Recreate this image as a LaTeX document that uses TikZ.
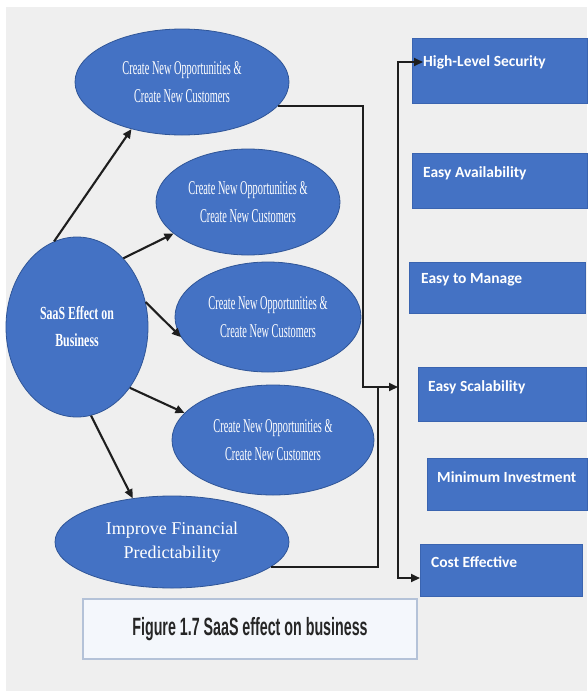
\documentclass[tikz,border=0pt]{standalone}
\usepackage{fontspec}
\usetikzlibrary{shapes.geometric,arrows.meta}

\newfontfamily\ellfont[FakeStretch=0.53]{Liberation Serif}
\newfontfamily\saasfont[FakeStretch=0.64]{Liberation Serif}
\newfontfamily\finfont{Liberation Serif}
\newfontfamily\boxfont{Carlito}
\newfontfamily\capfont[FakeStretch=0.57]{Liberation Sans}

\definecolor{officeblue}{HTML}{4472C4}
\definecolor{ellborder}{HTML}{2F5597}
\definecolor{boxborder}{HTML}{3A64B0}
\definecolor{paper}{HTML}{EFEFEF}
\definecolor{capfill}{HTML}{F4F7FC}
\definecolor{capborder}{HTML}{B4C2D8}
\definecolor{wire}{HTML}{1E1E1E}

\begin{document}
\begin{tikzpicture}[x=1pt, y=-1pt,
        bubble/.style={ellipse, fill=officeblue, draw=ellborder, line width=0.8pt, inner sep=0pt, text=white, align=center},
        opptext/.style={font=\ellfont\fontsize{19.5}{28}\selectfont},
        feature/.style={rectangle, fill=officeblue, draw=boxborder, line width=0.8pt, anchor=north west},
        featlabel/.style={anchor=west, inner sep=0pt, text=white, font=\boxfont\bfseries\fontsize{15.5}{18}\selectfont},
        link/.style={draw=wire, line width=2.1pt},
        tip/.style={-{Triangle[length=9pt, width=8pt]}}]
        \useasboundingbox (0,0) rectangle (587,691);
        \fill[white] (0,0) rectangle (587,691);
        \fill[paper] (6,7) rectangle (587,691);

        % ellipses on the left
        \node[bubble, minimum width=142, minimum height=180, font=\saasfont\bfseries\fontsize{18.5}{27}\selectfont] (saas) at (77,327) {SaaS Effect on\\Business};
        \node[bubble, opptext, minimum width=214, minimum height=106] (opp1) at (182,82) {Create New Opportunities \&\\Create New Customers};
        \node[bubble, opptext, minimum width=184, minimum height=106] (opp2) at (248,202) {Create New Opportunities \&\\Create New Customers};
        \node[bubble, opptext, minimum width=186, minimum height=110] (opp3) at (268,317) {Create New Opportunities \&\\Create New Customers};
        \node[bubble, opptext, minimum width=202, minimum height=110] (opp4) at (273,440) {Create New Opportunities \&\\Create New Customers};
        \node[bubble, minimum width=234, minimum height=92, font=\finfont\fontsize{18}{24}\selectfont] (fin) at (172,542) {Improve Financial\\Predictability};

        \draw[link, tip] (saas.105) -- (opp1.-137);
        \draw[link, tip] (saas.56) -- (opp2.-157);
        \draw[link, tip] (saas.20) -- (opp3.-167);
        \draw[link, tip] (saas.-49) -- (opp4.163);
        \draw[link, tip] (saas.-81) -- (fin.132);

        % boxes on the right
        \node[feature, minimum width=175, minimum height=65] (sec) at (412,38) {};
        \node[featlabel] (sec-t) at ([xshift=11pt, yshift=-24pt]sec.north west) {High-Level Security};
        \node[feature, minimum width=175, minimum height=55] (avail) at (412,153) {};
        \node[featlabel] (avail-t) at ([xshift=11pt, yshift=-20pt]avail.north west) {Easy Availability};
        \node[feature, minimum width=176, minimum height=51] (manage) at (409,262) {};
        \node[featlabel] (manage-t) at ([xshift=12pt, yshift=-18pt]manage.north west) {Easy to Manage};
        \node[feature, minimum width=168, minimum height=54] (scal) at (418,367) {};
        \node[featlabel] (scal-t) at ([xshift=10pt, yshift=-20pt]scal.north west) {Easy Scalability};
        \node[feature, minimum width=160, minimum height=52] (mininv) at (427,458) {};
        \node[featlabel] (mininv-t) at ([xshift=10pt, yshift=-19pt]mininv.north west) {Minimum Investment};
        \node[feature, minimum width=162, minimum height=52] (cost) at (420,544) {};
        \node[featlabel] (cost-t) at ([xshift=11pt, yshift=-18pt]cost.north west) {Cost Effective};

        % wiring
        \coordinate (joinA) at (363,387);
        \coordinate (joinB) at (378,387);
        \coordinate (busmid) at (398,387);
        \coordinate (bustop) at (398,62);
        \coordinate (busbot) at (398,578);

        \draw[link, tip] (opp1.-14) -| (joinA) -- (busmid);
        \draw[link] (fin.-14) -| (joinB);
        \draw[link, {Triangle[length=9pt, width=8pt]}-{Triangle[length=9pt, width=8pt]}] (cost.west |- busbot) -- (busbot) -- (bustop) -- (sec-t.west);

        \node[draw=capborder, fill=capfill, line width=1.2pt, minimum width=334, minimum height=60, text=black!85, font=\capfont\bfseries\fontsize{25}{28}\selectfont] (caption) at (250,629) {Figure 1.7 SaaS effect on business};
    \end{tikzpicture}
\end{document}
